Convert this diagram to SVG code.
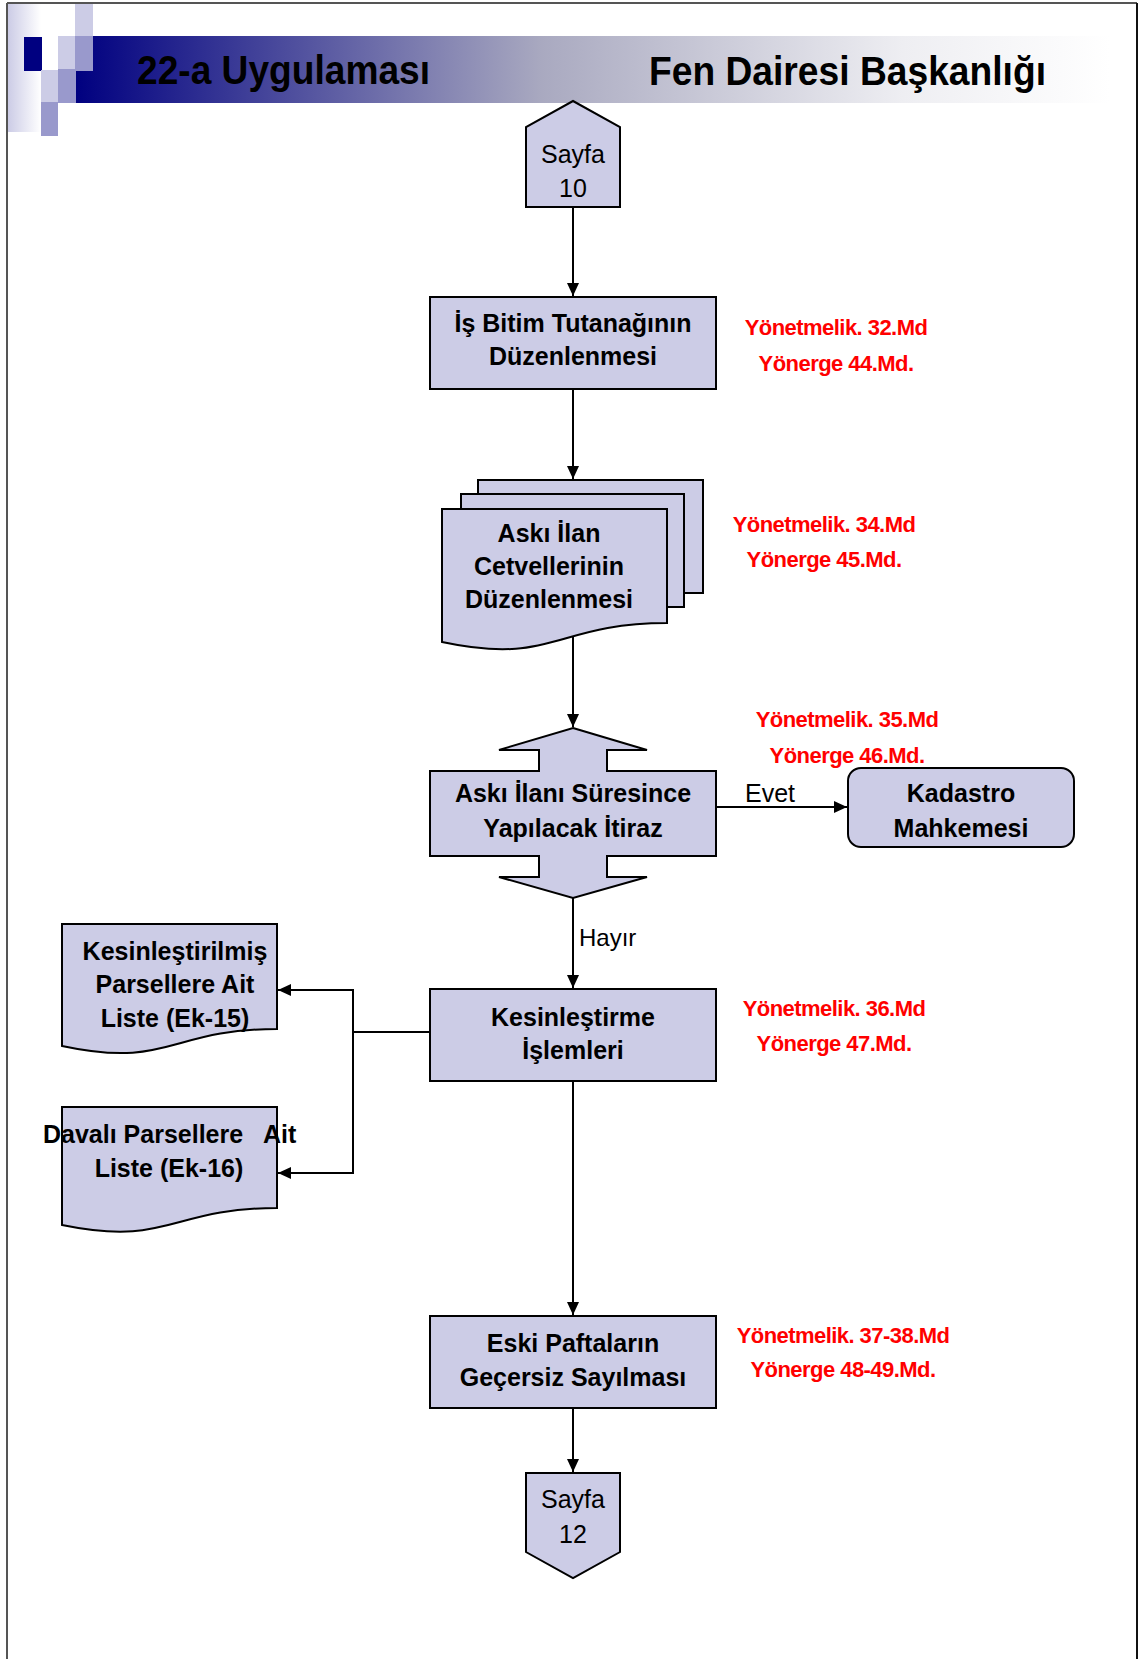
<svg xmlns="http://www.w3.org/2000/svg" width="1139" height="1659" viewBox="0 0 1139 1659">
<style>
.box{fill:#CCCCE6;stroke:#000;stroke-width:2}
.t{font-family:"Liberation Sans",Arial,sans-serif;font-size:25px;font-weight:bold;fill:#000;text-anchor:middle}
.n{font-family:"Liberation Sans",Arial,sans-serif;font-size:25px;fill:#000;text-anchor:middle}
.r{font-family:"Liberation Sans",Arial,sans-serif;font-size:22px;font-weight:bold;fill:#FF0000;text-anchor:middle;letter-spacing:-0.55px}
.h{font-family:"Liberation Sans",Arial,sans-serif;font-size:40px;font-weight:bold;fill:#000}
.c{fill:none;stroke:#000;stroke-width:2}
.lt{fill:#CCCCE6}
.md{fill:#9999CC}
</style>
<defs>
<linearGradient id="band" x1="76" y1="0" x2="1110" y2="0" gradientUnits="userSpaceOnUse">
<stop offset="0" stop-color="#000080"/>
<stop offset="0.45" stop-color="#A9A9C0"/>
<stop offset="0.8" stop-color="#EEEEF2"/>
<stop offset="1" stop-color="#FFFFFF"/>
</linearGradient>
<linearGradient id="bar" x1="8" y1="0" x2="41" y2="0" gradientUnits="userSpaceOnUse">
<stop offset="0" stop-color="#CCCCE6"/>
<stop offset="1" stop-color="#FFFFFF"/>
</linearGradient>
<marker id="ah" markerUnits="userSpaceOnUse" markerWidth="13" markerHeight="12" refX="13" refY="6" orient="auto">
<path d="M0,0 L13,6 L0,12 Z" fill="#000"/>
</marker>
</defs>
<rect width="1139" height="1659" fill="#fff"/>
<g id="frame">
<line x1="7" y1="3" x2="1137" y2="3" stroke="#555" stroke-width="2"/>
<line x1="7" y1="3" x2="7" y2="1659" stroke="#555" stroke-width="2"/>
<line x1="1137" y1="3" x2="1137" y2="1659" stroke="#111" stroke-width="2"/>
</g>
<g id="header">
<rect x="8" y="4" width="33" height="128" fill="url(#bar)"/>
<rect x="76" y="36" width="1034" height="67" fill="url(#band)"/>
<rect class="lt" x="75" y="4" width="18" height="32"/>
<rect x="24" y="37" width="18" height="34" fill="#000080"/>
<rect class="lt" x="58" y="36" width="17" height="33"/>
<rect class="md" x="75" y="36" width="18" height="35"/>
<rect class="lt" x="41" y="70" width="17" height="32"/>
<rect class="md" x="58" y="69" width="18" height="34"/>
<rect class="md" x="41" y="102" width="17" height="34"/>
<text class="h" x="137" y="84" textLength="293" lengthAdjust="spacingAndGlyphs">22-a Uygulaması</text>
<text class="h" x="649" y="85" textLength="397" lengthAdjust="spacingAndGlyphs">Fen Dairesi Başkanlığı</text>
</g>
<g id="connectors">
<line class="c" x1="573" y1="207" x2="573" y2="296" marker-end="url(#ah)"/>
<line class="c" x1="573" y1="389" x2="573" y2="479" marker-end="url(#ah)"/>
<line class="c" x1="573" y1="630" x2="573" y2="727" marker-end="url(#ah)"/>
<line class="c" x1="716" y1="807" x2="847" y2="807" marker-end="url(#ah)"/>
<line class="c" x1="573" y1="898" x2="573" y2="988" marker-end="url(#ah)"/>
<line class="c" x1="430" y1="1032" x2="353" y2="1032"/>
<line class="c" x1="353" y1="989" x2="353" y2="1174"/>
<line class="c" x1="354" y1="990" x2="278" y2="990" marker-end="url(#ah)"/>
<line class="c" x1="354" y1="1173" x2="278" y2="1173" marker-end="url(#ah)"/>
<line class="c" x1="573" y1="1081" x2="573" y2="1315" marker-end="url(#ah)"/>
<line class="c" x1="573" y1="1408" x2="573" y2="1472" marker-end="url(#ah)"/>
<text class="n" x="745" y="802" style="text-anchor:start">Evet</text>
<text class="n" x="579" y="946" style="text-anchor:start;font-size:24px">Hayır</text>
</g>
<g id="sayfa10">
<path class="box" d="M573,101 L620,127 L620,207 L526,207 L526,127 Z"/>
<text class="n" x="573" y="163">Sayfa</text>
<text class="n" x="573" y="197">10</text>
</g>
<g id="isbitim">
<rect class="box" x="430" y="297" width="286" height="92"/>
<text class="t" x="573" y="332">İş Bitim Tutanağının</text>
<text class="t" x="573" y="365">Düzenlenmesi</text>
</g>
<g id="ref1">
<text class="r" x="836" y="335">Yönetmelik. 32.Md</text>
<text class="r" x="836" y="371">Yönerge 44.Md.</text>
</g>
<g id="aski-cetvel">
<rect class="box" x="478" y="480" width="225" height="113"/>
<rect class="box" x="461" y="494" width="223" height="113"/>
<path class="box" d="M442,509 H667 V623 C554.5,623 554.5,666 442,642 Z"/>
<text class="t" x="549" y="542">Askı İlan</text>
<text class="t" x="549" y="575">Cetvellerinin</text>
<text class="t" x="549" y="608">Düzenlenmesi</text>
</g>
<g id="ref2">
<text class="r" x="824" y="532">Yönetmelik. 34.Md</text>
<text class="r" x="824" y="567">Yönerge 45.Md.</text>
</g>
<g id="itiraz">
<path class="box" d="M573,728 L647,750 L607,750 L607,771 L716,771 L716,856 L607,856 L607,877 L647,877 L573,898 L499,877 L539,877 L539,856 L430,856 L430,771 L539,771 L539,750 L499,750 Z"/>
<text class="t" x="573" y="802">Askı İlanı Süresince</text>
<text class="t" x="573" y="837">Yapılacak İtiraz</text>
</g>
<g id="ref3">
<text class="r" x="847" y="727">Yönetmelik. 35.Md</text>
<text class="r" x="847" y="763">Yönerge 46.Md.</text>
</g>
<g id="kadastro">
<rect class="box" x="848" y="768" width="226" height="79" rx="13" ry="13"/>
<text class="t" x="961" y="802">Kadastro</text>
<text class="t" x="961" y="837">Mahkemesi</text>
</g>
<g id="kesinlestirme">
<rect class="box" x="430" y="989" width="286" height="92"/>
<text class="t" x="573" y="1026">Kesinleştirme</text>
<text class="t" x="573" y="1059">İşlemleri</text>
</g>
<g id="ref4">
<text class="r" x="834" y="1016">Yönetmelik. 36.Md</text>
<text class="r" x="834" y="1051">Yönerge 47.Md.</text>
</g>
<g id="ek15">
<path class="box" d="M62,924 H277 V1029 C169.5,1029 169.5,1069 62,1046 Z"/>
<text class="t" x="175" y="960">Kesinleştirilmiş</text>
<text class="t" x="175" y="993">Parsellere Ait</text>
<text class="t" x="175" y="1027">Liste (Ek-15)</text>
</g>
<g id="ek16">
<path class="box" d="M62,1107 H277 V1208 C169.5,1208 169.5,1247 62,1225 Z"/>
<text class="t" x="43" y="1143" style="text-anchor:start" xml:space="preserve">Davalı Parsellere   Ait</text>
<text class="t" x="169" y="1177">Liste (Ek-16)</text>
</g>
<g id="eskipafta">
<rect class="box" x="430" y="1316" width="286" height="92"/>
<text class="t" x="573" y="1352">Eski Paftaların</text>
<text class="t" x="573" y="1386">Geçersiz Sayılması</text>
</g>
<g id="ref5">
<text class="r" x="843" y="1343">Yönetmelik. 37-38.Md</text>
<text class="r" x="843" y="1377">Yönerge 48-49.Md.</text>
</g>
<g id="sayfa12">
<path class="box" d="M526,1473 L620,1473 L620,1552 L573,1578 L526,1552 Z"/>
<text class="n" x="573" y="1508">Sayfa</text>
<text class="n" x="573" y="1543">12</text>
</g>
</svg>
